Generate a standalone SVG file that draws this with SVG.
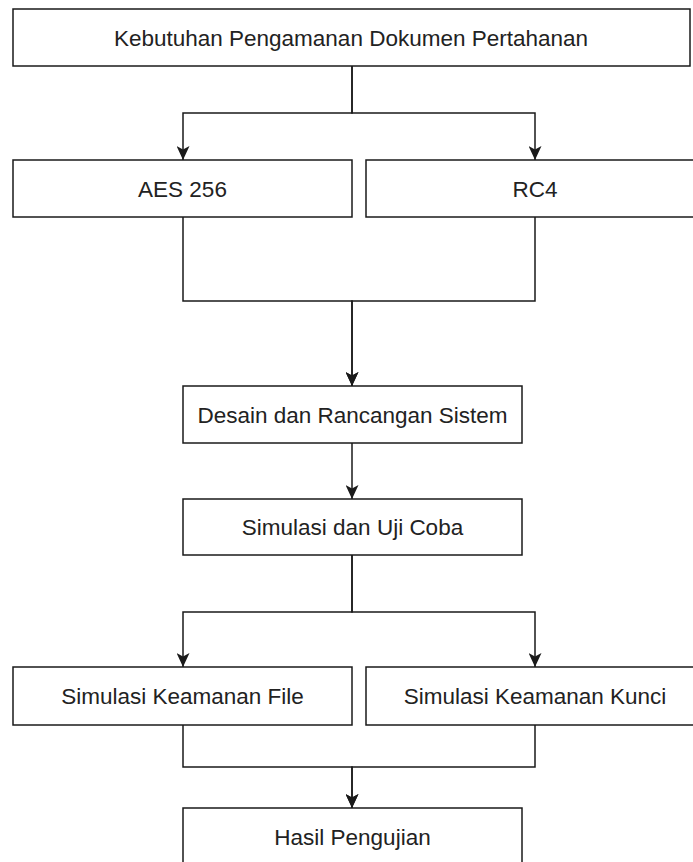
<svg xmlns="http://www.w3.org/2000/svg" width="693" height="862" viewBox="0 0 693 862">
<style>
.box{fill:#fff;stroke:#1a1a1a;stroke-width:1.5}
.lbl{font-family:"Liberation Sans",Arial,sans-serif;font-size:22.5px;fill:#222;text-anchor:middle}
.edge{fill:none;stroke:#1a1a1a;stroke-width:1.5}
</style>
<defs>
<marker id="arr" viewBox="0 0 14 13" refX="14" refY="6.5" markerWidth="14" markerHeight="13" markerUnits="userSpaceOnUse" orient="auto">
<path d="M0,0 L14,6.5 L0,13 L3.5,6.5 z" fill="#1a1a1a"/>
</marker>
</defs>
<rect width="693" height="862" fill="#fff"/>
<g id="connectors">
<path class="edge" d="M352,66 V113 H183 V160" marker-end="url(#arr)"/>
<path class="edge" d="M352,66 V113 H535 V160" marker-end="url(#arr)"/>
<path class="edge" d="M183,217 V301 H352 V386" marker-end="url(#arr)"/>
<path class="edge" d="M535,217 V301 H352 V386" marker-end="url(#arr)"/>
<path class="edge" d="M352,443 V499" marker-end="url(#arr)"/>
<path class="edge" d="M352,555 V612 H183 V667" marker-end="url(#arr)"/>
<path class="edge" d="M352,555 V612 H535 V667" marker-end="url(#arr)"/>
<path class="edge" d="M183,725 V767 H352 V808" marker-end="url(#arr)"/>
<path class="edge" d="M535,725 V767 H352 V808" marker-end="url(#arr)"/>
</g>
<g id="n-kebutuhan"><rect class="box" x="13" y="9" width="677" height="57"/><text class="lbl" x="351" y="46">Kebutuhan Pengamanan Dokumen Pertahanan</text></g>
<g id="n-aes"><rect class="box" x="13" y="160" width="339" height="57"/><text class="lbl" x="182.5" y="196.5">AES 256</text></g>
<g id="n-rc4"><rect class="box" x="366" y="160" width="338" height="57"/><text class="lbl" x="535" y="196.5">RC4</text></g>
<g id="n-desain"><rect class="box" x="183" y="386" width="339" height="57"/><text class="lbl" x="352.5" y="422.5">Desain dan Rancangan Sistem</text></g>
<g id="n-simulasi"><rect class="box" x="183" y="499" width="339" height="56"/><text class="lbl" x="352.5" y="535">Simulasi dan Uji Coba</text></g>
<g id="n-file"><rect class="box" x="13" y="667" width="339" height="58"/><text class="lbl" x="182.5" y="704">Simulasi Keamanan File</text></g>
<g id="n-kunci"><rect class="box" x="366" y="667" width="338" height="58"/><text class="lbl" x="535" y="704">Simulasi Keamanan Kunci</text></g>
<g id="n-hasil"><rect class="box" x="183" y="808" width="339" height="58"/><text class="lbl" x="352.5" y="845">Hasil Pengujian</text></g>
</svg>
